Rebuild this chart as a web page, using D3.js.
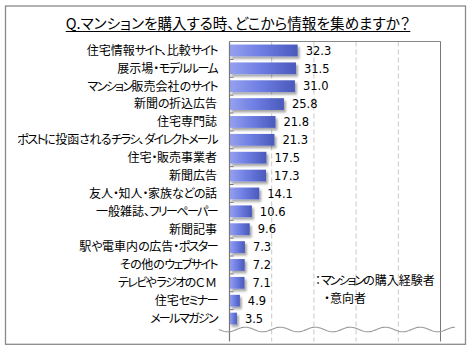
<!DOCTYPE html>
<html><head><meta charset="utf-8">
<script src="https://cdn.jsdelivr.net/npm/d3@7"></script>
<style>
html,body{margin:0;padding:0;background:#fff;}
svg{display:block;}
.jp{font-family:"Noto Sans CJK JP","Noto Sans",sans-serif;font-feature-settings:"palt";}
</style></head>
<body><div id="chart"></div>
<script>
const title = "Q.マンションを購入する時、どこから情報を集めますか？";
const categories = ["住宅情報サイト、比較サイト","展示場・モデルルーム","マンション販売会社のサイト","新聞の折込広告","住宅専門誌","ポストに投函されるチラシ、ダイレクトメール","住宅・販売事業者","新聞広告","友人・知人・家族などの話","一般雑誌、フリーペーパー","新聞記事","駅や電車内の広告・ポスター","その他のウェブサイト","テレビやラジオのＣＭ","住宅セミナー","メールマガジン"];
const values = [32.3,31.5,31.0,25.8,21.8,21.3,17.5,17.3,14.1,10.6,9.6,7.3,7.2,7.1,4.9,3.5];
const gridTicks = [20,40,60,80];
const legendLines = ["：マンションの購入経験者","・意向者"];

const W=470,H=350;
const svg=d3.select("#chart").append("svg").attr("width",W).attr("height",H);
const defs=svg.append("defs");
const g1=defs.append("linearGradient").attr("id","barGrad").attr("x1","0").attr("x2","1").attr("y1","0").attr("y2","0");
g1.append("stop").attr("offset","0%").attr("stop-color","#96a1ef");
g1.append("stop").attr("offset","45%").attr("stop-color","#6f7fe3");
g1.append("stop").attr("offset","100%").attr("stop-color","#4a59bb");
const f=defs.append("filter").attr("id","shadow").attr("x","-20%").attr("y","-30%").attr("width","150%").attr("height","180%");
f.append("feDropShadow").attr("dx",2).attr("dy",2.5).attr("stdDeviation",1).attr("flood-color","#000").attr("flood-opacity",0.35);

function runs(s){
  const out=[];
  for(const ch of s){
    let k = /[\u30a0-\u30fa\u30fc-\u30ff]/.test(ch) ? "kata" : (/[\u3001-\u309f\u30fb\uff1a]/.test(ch) ? "kana" : "other");
    if(out.length && out[out.length-1].k===k) out[out.length-1].t+=ch; else out.push({k,t:ch});
  }
  return out;
}
function fillRuns(sel,getText,kata,kana){
  sel.each(function(d){
    const el=d3.select(this);
    el.selectAll("tspan").data(runs(getText(d))).join("tspan")
      .attr("letter-spacing",r=>r.k==="kata"?kata:(r.k==="kana"?kana:0))
      .text(r=>r.t);
  });
}

svg.append("rect").attr("x",5.5).attr("y",6).attr("width",460).attr("height",338.3)
  .attr("fill","#fff").attr("stroke","#8a8a8a").attr("stroke-width",1.3);

const x=d3.scaleLinear().domain([0,100]).range([229.5,440.5]);
const y=d3.scaleBand().domain(categories).range([41.5,327.5]).paddingInner(0.34).paddingOuter(0.17);
const plotTop=41.5, axisBottom=343;

const t=svg.append("text").attr("class","jp").attr("x",238).attr("y",28.5).attr("text-anchor","middle")
  .attr("font-size",14.6).attr("fill","#000").text(title);
const tb=t.node().getBBox();
svg.append("line").attr("x1",tb.x).attr("x2",tb.x+tb.width).attr("y1",31.5).attr("y2",31.5).attr("stroke","#000").attr("stroke-width",1);

svg.selectAll(".grid").data(gridTicks).join("line").attr("class","grid")
  .attr("x1",d=>x(d)).attr("x2",d=>x(d)).attr("y1",plotTop).attr("y2",axisBottom-1.5)
  .attr("stroke","#c8c8c8").attr("stroke-width",1).attr("stroke-dasharray","5,3");
svg.append("line").attr("x1",x(0)).attr("x2",x(100)).attr("y1",plotTop).attr("y2",plotTop).attr("stroke","#888").attr("stroke-width",1);
svg.append("line").attr("x1",x(100)).attr("x2",x(100)).attr("y1",plotTop).attr("y2",axisBottom-1.5).attr("stroke","#777").attr("stroke-width",1);

svg.selectAll(".bar").data(values).join("rect").attr("class","bar")
  .attr("x",x(0)).attr("y",(d,i)=>y(categories[i]))
  .attr("width",d=>x(d)-x(0)).attr("height",y.bandwidth())
  .attr("fill","url(#barGrad)").attr("filter","url(#shadow)");

svg.append("line").attr("x1",x(0)).attr("x2",x(0)).attr("y1",plotTop).attr("y2",axisBottom-1.5).attr("stroke","#777").attr("stroke-width",1.2);
const bounds=categories.slice(1).map(c=>y(c)-y.step()*y.paddingInner()/2);
svg.selectAll(".tk").data(bounds).join("line").attr("class","tk")
  .attr("x1",x(0)).attr("x2",x(0)+4).attr("y1",d=>d).attr("y2",d=>d).attr("stroke","#777").attr("stroke-width",1);

svg.selectAll(".cat").data(categories).join("text").attr("class","cat jp")
  .attr("x",217).attr("y",d=>y(d)+y.bandwidth()/2).attr("dy","0.36em")
  .attr("text-anchor","end").attr("font-size",12).attr("fill","#000")
  .call(fillRuns,d=>d,-1.6,-0.5);

svg.selectAll(".val").data(values).join("text").attr("class","val")
  .attr("x",d=>x(d)+8).attr("y",(d,i)=>y(categories[i])+y.bandwidth()/2).attr("dy","0.37em")
  .attr("font-family","DejaVu Sans, Verdana, sans-serif").attr("font-size",11.5).attr("fill","#000")
  .text(d=>d.toFixed(1));

const wx=d3.range(219,455.5,1);
const wave=d3.line().x(d=>d).y(d=>329.5+2.3*Math.sin((d-219)/35*2*Math.PI));
svg.append("path").attr("d",wave(wx)).attr("fill","none").attr("stroke","#999").attr("stroke-width",1.1);

svg.selectAll(".leg").data(legendLines).join("text").attr("class","leg jp")
  .attr("x",(d,i)=>i===0?315:324).attr("y",(d,i)=>281+i*18).attr("dy","0.36em")
  .attr("font-size",12).attr("fill","#000")
  .call(fillRuns,d=>d,-2,0);
</script></body></html>
